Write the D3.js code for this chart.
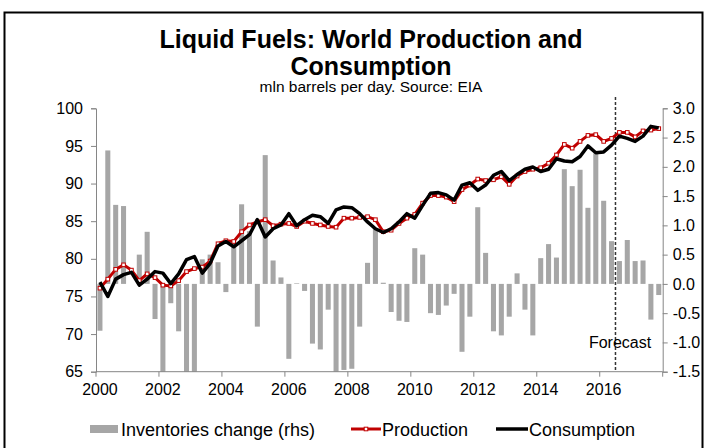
<!DOCTYPE html>
<html>
<head>
<meta charset="utf-8">
<script src="https://cdn.jsdelivr.net/npm/d3@7"></script>
<style>
  body { margin: 0; background: #fff; }
  svg { display: block; font-family: "Liberation Sans", Arial, sans-serif; }
  .axis path, .axis line { stroke: #868686; }
  .axis text { fill: #000; font-size: 16px; }
</style>
</head>
<body>
<svg id="chart" width="708" height="448"></svg>
<script>
// quarterly data, 2000Q1 - 2017Q4
var years = [2000, 2001, 2002, 2003, 2004, 2005, 2006, 2007, 2008,
             2009, 2010, 2011, 2012, 2013, 2014, 2015, 2016, 2017];
var quarters = ["Q1", "Q2", "Q3", "Q4"];
var yearLabels = ["2000", "2002", "2004", "2006", "2008", "2010", "2012", "2014", "2016"];
var leftTicks = [65, 70, 75, 80, 85, 90, 95, 100];
var rightTicks = [-1.5, -1.0, -0.5, 0.0, 0.5, 1.0, 1.5, 2.0, 2.5, 3.0];

var production = [
  76.1, 77.3, 78.6, 79.2,  78.5, 77.1, 78.0, 77.5,  76.5, 76.4, 77.1, 78.3,
  78.7, 78.9, 79.7, 82.0,  82.4, 82.3, 83.6, 84.5,  84.9, 85.2, 84.4, 84.6,
  84.7, 84.3, 85.0, 84.7,  84.5, 84.3, 84.2, 85.4,  85.4, 85.5, 85.6, 85.2,
  83.6, 83.8, 84.7, 85.4,  85.9, 87.4, 88.4, 88.4,  88.2, 87.6, 89.2, 89.8,
  90.6, 90.4, 90.5, 90.9,  89.9, 91.0, 91.6, 91.9,  92.1, 92.7, 93.8, 95.2,
  94.7, 95.6, 96.4, 96.5,  95.6, 96.0, 96.8, 96.8,  96.2, 97.0, 97.1, 97.3
];
var consumption = [
  76.9, 75.0, 77.3, 77.9,  78.2, 76.5, 77.3, 78.3,  78.1, 76.7, 78.0, 79.9,
  80.3, 78.1, 79.4, 81.7,  82.3, 81.6, 82.4, 83.2,  85.2, 82.9, 84.0, 84.5,
  86.0, 84.4, 85.2, 85.8,  85.6, 84.7, 86.5, 86.9,  86.8, 86.0, 84.9, 84.0,
  83.5, 84.0, 84.9, 86.0,  85.4, 87.1, 88.7, 88.8,  88.5, 87.8, 89.8, 90.1,
  89.1, 89.8, 91.1, 91.6,  90.4, 91.2, 91.9, 92.2,  91.6, 91.9, 93.3, 93.0,
  92.9, 93.6, 95.0, 94.1,  94.2, 95.1, 96.3, 96.0,  95.6, 96.3, 97.6, 97.4
];
var inventories = [
  -0.80, 2.28, 1.35, 1.33,   0.00, 0.50, 0.89, -0.60,  -1.70, -0.33, -0.81, -1.70,
  -1.70, 0.42, 0.50, 0.37,  -0.14, 0.74, 1.36, 0.90,   -0.73, 2.20, 0.40, 0.11,
  -1.28, 0.01, -0.12, -1.02, -1.12, -0.44, -1.55, -1.47, -1.45, -0.73, 0.36, 0.95,
   0.02, -0.48, -0.63, -0.65,  0.61, 0.50, -0.50, -0.53, -0.37, -0.17, -1.16, -0.56,
   1.31, 0.53, -0.81, -0.88, -0.56, 0.18, -0.44, -0.88,  0.44, 0.68, 0.45, 1.96,
   1.67, 1.95, 1.30, 2.23,   1.42, 0.73, 0.39, 0.75,   0.39, 0.40, -0.61, -0.19
];
var forecastStart = "2016Q3";

var categories = years.flatMap(function (y) {
  return quarters.map(function (q) { return y + q; });
});

var svg = d3.select("#chart");
var plot = { left: 96, right: 662.7, top: 108.3, bottom: 371.7 };
var RED = "#c00000";

var x = d3.scaleBand()
  .domain(categories)
  .range([plot.left, plot.right])
  .paddingInner(0.36)
  .paddingOuter(0.18);
var cx = function (d) { return x(d) + x.bandwidth() / 2; };

var yL = d3.scaleLinear().domain([65, 100]).range([plot.bottom, plot.top]);
var yR = d3.scaleLinear().domain([-1.5, 3]).range([plot.bottom, plot.top]);

// outer frame
svg.append("rect")
  .attr("x", 4.5).attr("y", 12.5)
  .attr("width", 698).attr("height", 450)
  .attr("fill", "none").attr("stroke", "#000").attr("stroke-width", 2);

// titles
svg.append("text")
  .attr("x", 371).attr("y", 48)
  .attr("text-anchor", "middle")
  .attr("font-size", 25).attr("font-weight", "bold")
  .text("Liquid Fuels: World Production and");
svg.append("text")
  .attr("x", 371).attr("y", 75)
  .attr("text-anchor", "middle")
  .attr("font-size", 25).attr("font-weight", "bold")
  .text("Consumption");
svg.append("text")
  .attr("x", 371).attr("y", 92)
  .attr("text-anchor", "middle")
  .attr("font-size", 15.5)
  .text("mln barrels per day. Source: EIA");

svg.append("clipPath").attr("id", "plotClip")
  .append("rect")
  .attr("x", plot.left).attr("y", plot.top)
  .attr("width", plot.right - plot.left).attr("height", plot.bottom - plot.top);

// inventories bars (rhs)
svg.append("g")
  .attr("clip-path", "url(#plotClip)")
  .selectAll("rect")
  .data(categories)
  .enter().append("rect")
  .attr("x", function (d) { return x(d); })
  .attr("width", x.bandwidth())
  .attr("y", function (d, i) { return yR(Math.max(0, inventories[i])); })
  .attr("height", function (d, i) { return Math.abs(yR(inventories[i]) - yR(0)); })
  .attr("fill", "#a6a6a6");

// axes
svg.append("g")
  .attr("class", "axis")
  .attr("transform", "translate(" + plot.left + ",0)")
  .call(d3.axisLeft(yL).tickValues(leftTicks).tickSize(5).tickPadding(8).tickFormat(d3.format("d")));

svg.append("g")
  .attr("class", "axis")
  .attr("transform", "translate(" + plot.right + ",0)")
  .call(d3.axisRight(yR).tickValues(rightTicks).tickSize(5).tickPadding(5)
    .tickFormat(function (d) { return d.toFixed(1); }));

var xAxis = svg.append("g")
  .attr("class", "axis")
  .attr("transform", "translate(0," + plot.bottom + ")")
  .call(d3.axisBottom(x)
    .tickValues(yearLabels.map(function (y) { return y + "Q1"; }))
    .tickSize(0).tickPadding(12)
    .tickFormat(function (d) { return d.slice(0, 4); }));
xAxis.select(".domain").remove();
xAxis.selectAll(".tick line").remove();

// bottom axis line and tick marks at every second year boundary
var xIdx = d3.scaleLinear().domain([0, categories.length]).range([plot.left, plot.right]);
svg.append("line")
  .attr("x1", plot.left).attr("x2", plot.right)
  .attr("y1", plot.bottom).attr("y2", plot.bottom)
  .attr("stroke", "#868686");
svg.selectAll("line.xtick")
  .data(d3.range(0, categories.length + 1, 8))
  .enter().append("line")
  .attr("class", "xtick")
  .attr("x1", xIdx).attr("x2", xIdx)
  .attr("y1", plot.bottom).attr("y2", plot.bottom + 5)
  .attr("stroke", "#868686");

// forecast marker
var fx = xIdx(categories.indexOf(forecastStart));
svg.append("line")
  .attr("x1", fx).attr("x2", fx)
  .attr("y1", 97).attr("y2", plot.bottom)
  .attr("stroke", "#333").attr("stroke-width", 1.5)
  .attr("stroke-dasharray", "3,2");
svg.append("text")
  .attr("x", 620).attr("y", 348)
  .attr("text-anchor", "middle")
  .attr("font-size", 16)
  .text("Forecast");

// production line with markers
var lineL = d3.line()
  .x(function (d, i) { return cx(categories[i]); })
  .y(function (d) { return yL(d); });

svg.append("path")
  .datum(production)
  .attr("d", lineL)
  .attr("fill", "none")
  .attr("stroke", RED)
  .attr("stroke-width", 3);
svg.append("g")
  .selectAll("rect")
  .data(production)
  .enter().append("rect")
  .attr("x", function (d, i) { return cx(categories[i]) - 1.8; })
  .attr("y", function (d) { return yL(d) - 1.8; })
  .attr("width", 3.6).attr("height", 3.6)
  .attr("fill", "#fff")
  .attr("stroke", RED).attr("stroke-width", 1);

// consumption line
svg.append("path")
  .datum(consumption)
  .attr("d", lineL)
  .attr("fill", "none")
  .attr("stroke", "#000")
  .attr("stroke-width", 3.5)
  .attr("stroke-linejoin", "round");

// legend
var legend = svg.append("g").attr("font-size", 18);
legend.append("rect")
  .attr("x", 90).attr("y", 425).attr("width", 28).attr("height", 8)
  .attr("fill", "#a6a6a6");
legend.append("text").attr("x", 121).attr("y", 435.5).text("Inventories change (rhs)");

legend.append("line")
  .attr("x1", 351).attr("x2", 381).attr("y1", 429).attr("y2", 429)
  .attr("stroke", RED).attr("stroke-width", 3);
legend.append("rect")
  .attr("x", 364.2).attr("y", 427.2).attr("width", 3.6).attr("height", 3.6)
  .attr("fill", "#fff").attr("stroke", RED).attr("stroke-width", 1);
legend.append("text").attr("x", 382).attr("y", 435.5).text("Production");

legend.append("line")
  .attr("x1", 496).attr("x2", 528).attr("y1", 429).attr("y2", 429)
  .attr("stroke", "#000").attr("stroke-width", 3.5);
legend.append("text").attr("x", 529).attr("y", 435.5).text("Consumption");
</script>
</body>
</html>
